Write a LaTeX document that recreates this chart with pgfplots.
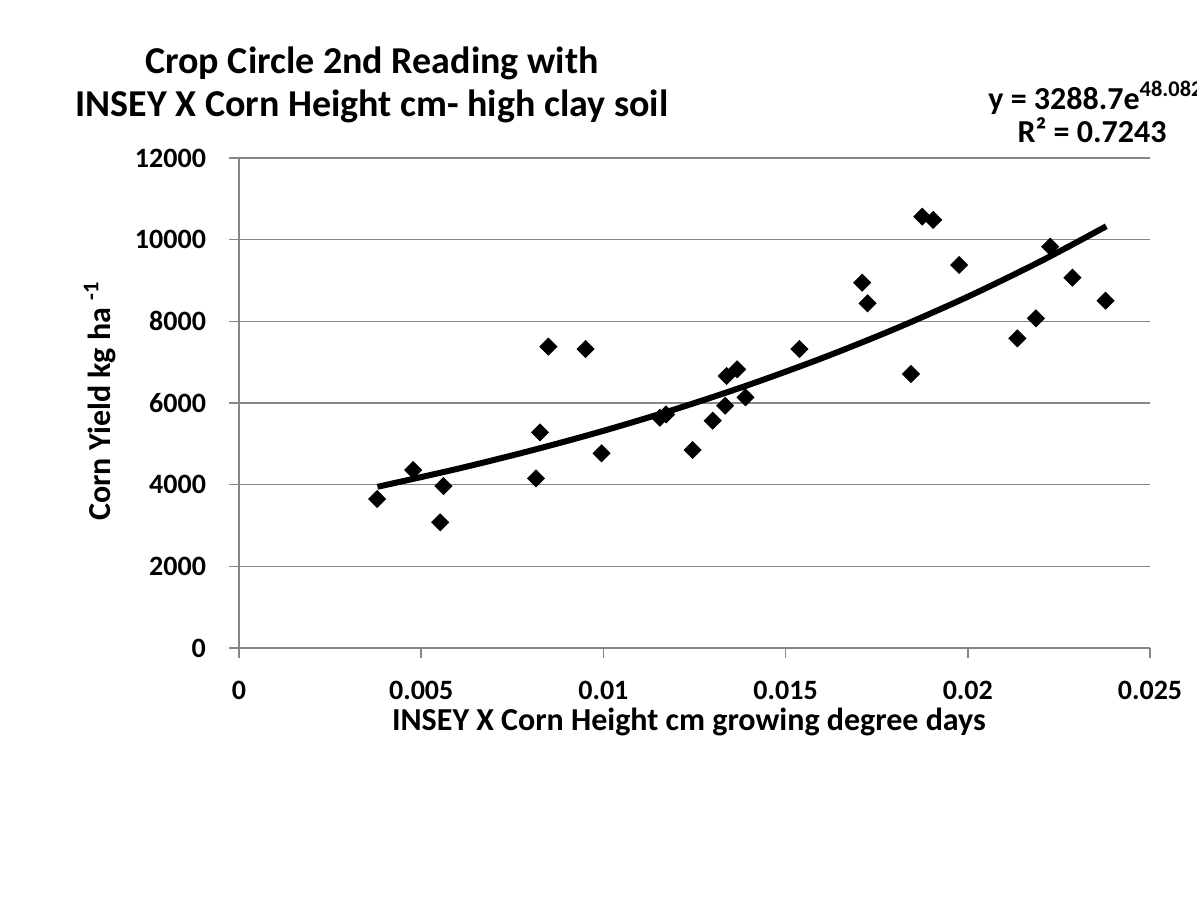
\documentclass[border=0pt]{standalone}
\usepackage{fontspec}
\setmainfont{Carlito}
\usepackage{pgfplots}
\pgfplotsset{compat=1.18}
\definecolor{gridgray}{HTML}{868686}
\begin{document}
\begin{tikzpicture}[x=0.5pt,y=0.5pt]
\useasboundingbox (0,0) rectangle (1197,896);
\begin{axis}[
  at={(119.5pt,124pt)}, anchor=south west,
  scale only axis, width=455.5pt, height=245pt,
  xmin=0, xmax=0.025, ymin=0, ymax=12000,
  scaled ticks=false,
  xtick={0,0.005,0.01,0.015,0.02,0.025},
  xticklabels={0,0.005,0.01,0.015,0.02,0.025},
  ytick={0,2000,4000,6000,8000,10000,12000},
  yticklabels={0,2000,4000,6000,8000,10000,12000},
  ymajorgrids, grid style={gridgray, line width=0.75pt},
  axis x line*=bottom, axis y line*=left,
  axis line style={gridgray, line width=0.75pt, -},
  tick style={gridgray, line width=0.75pt},
  tick align=outside, major tick length=5pt,
  tick label style={font=\bfseries\fontsize{14}{14}\selectfont, black},
  xticklabel style={yshift=-8pt},
  yticklabel style={xshift=-8pt},
]
\addplot[only marks, mark=square*, mark size=3pt, mark options={rotate=45, fill=black, draw=black}] coordinates {
(0.00379,3649) (0.00478,4359) (0.00552,3078) (0.00561,3967) (0.00815,4155)
(0.00826,5282) (0.00849,7380) (0.00951,7322) (0.00995,4767) (0.01155,5640)
(0.01172,5720) (0.01245,4849) (0.01300,5567) (0.01334,5934) (0.01338,6661)
(0.01367,6825) (0.01390,6139) (0.01538,7322) (0.01710,8947) (0.01725,8441)
(0.01844,6710) (0.01875,10563) (0.01905,10482) (0.01976,9380) (0.02136,7583)
(0.02187,8074) (0.02226,9829) (0.02287,9069) (0.02378,8506)
};
\addplot[black, line width=3pt, smooth, no marks] coordinates {
(0.0038,3948) (0.006,4389) (0.008,4832) (0.010,5319) (0.012,5856)
(0.014,6448) (0.016,7099) (0.018,7815) (0.020,8603) (0.022,9472) (0.0238,10328)
};
\end{axis}
\node[font=\bfseries\fontsize{19}{21.5}\selectfont, align=center] at (372,811) {Crop Circle 2nd Reading with\\INSEY X Corn Height cm- high clay soil};
\node[font=\bfseries\fontsize{16}{16}\selectfont, anchor=west, inner sep=0pt] at (988,798) {y = 3288.7e\textsuperscript{48.082}};
\node[font=\bfseries\fontsize{16}{16}\selectfont] at (1092,766) {R² = 0.7243};
\node[font=\bfseries\fontsize{16}{16}\selectfont, rotate=90] at (100,495) {Corn Yield kg ha \textsuperscript{-1}};
\node[font=\bfseries\fontsize{16}{16}\selectfont] at (689,174) {INSEY X Corn Height cm growing degree days};
\end{tikzpicture}
\end{document}
